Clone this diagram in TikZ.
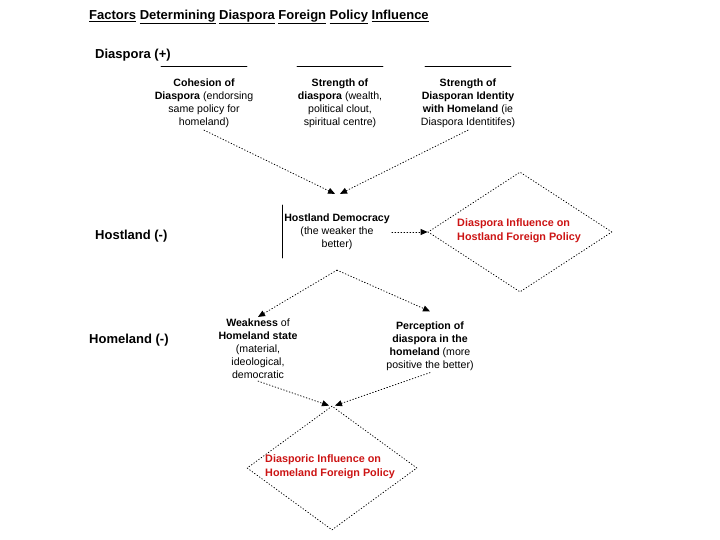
\documentclass[tikz,border=0pt]{standalone}
\usepackage{fontspec}
\setmainfont{Liberation Sans}
\usetikzlibrary{arrows.meta,shapes.geometric}
\definecolor{outred}{RGB}{204,20,20}
\begin{document}
\begin{tikzpicture}
% Factors diagram, laid out on the 720x540 page (1 unit = 1pt, y downwards)
\def\unitsz{1pt}
\providecommand{\diagDotWidth}{0.8pt}
\providecommand{\diagBarWidth}{0.8pt}
\begin{scope}[x=\unitsz, y=-\unitsz, line cap=round,
  dotline/.style={dash pattern=on 0.8pt off 2.2pt, line width=\diagDotWidth},
  rowlabel/.style={anchor=west, inner sep=0pt, font=\bfseries\fontsize{13}{15}\selectfont},
  factor/.style={align=center, inner sep=2pt, font=\fontsize{10.6}{13}\selectfont},
  outcome/.style={anchor=west, align=left, inner sep=0pt, text=outred, font=\bfseries\fontsize{10.8}{14}\selectfont},
  outframe/.style={diamond, draw, inner sep=0pt, dotline},
  conn/.style={dotline, -{Triangle[length=7pt,width=6pt]}},
  topbar/.style={line width=\diagBarWidth},
]
  \useasboundingbox (0,0) rectangle (720,540);
  % Title and row labels
  \node[rowlabel] (title) at (89,17) {\underline{Factors} \underline{Determining} \underline{Diaspora} \underline{Foreign} \underline{Policy} \underline{Influence}};
  \node[rowlabel] (diasporarow) at (95,55) {Diaspora (+)};
  \node[rowlabel] (hostlandrow) at (95,236) {Hostland (-)};
  \node[rowlabel] (homelandrow) at (89,340) {Homeland (-)};
  % Diaspora factors
  \node[factor] (cohesion) at (204,103.5) {\textbf{Cohesion of}\\\textbf{Diaspora} (endorsing\\same policy for\\homeland)};
  \node[factor] (strength) at (340,103.5) {\textbf{Strength of}\\\textbf{diaspora} (wealth,\\political clout,\\spiritual centre)};
  \node[factor] (identity) at (468,103.5) {\textbf{Strength of}\\\textbf{Diasporan Identity}\\\textbf{with Homeland} (ie\\Diaspora Identitifes)};
  \foreach \n in {cohesion,strength,identity}
    \draw[topbar] ([xshift=-43pt,yshift=10pt]\n.north) -- ([xshift=43pt,yshift=10pt]\n.north);
  % Hostland
  \node[factor, inner ysep=20pt] (democracy) at (337,232) {\textbf{Hostland Democracy}\\(the weaker the\\better)};
  \draw[topbar] ([yshift=27pt]democracy.west) -- ([yshift=-26pt]democracy.west);
  \node[outframe, minimum width=184pt, minimum height=120pt] (hostfp) at (520,232) {};
  \node[outcome] (hostfptext) at (457,231) {Diaspora Influence on\\Hostland Foreign Policy};
  % Homeland
  \node[factor] (weakness) at (258,349) {\textbf{Weakness} of\\\textbf{Homeland state}\\(material,\\ideological,\\democratic};
  \node[factor] (perception) at (430,346) {\textbf{Perception of}\\\textbf{diaspora in the}\\\textbf{homeland} (more\\positive the better)};
  \node[outframe, minimum width=170pt, minimum height=124pt] (homefp) at (332,468) {};
  \node[outcome] (homefptext) at (265,467) {Diasporic Influence on\\Homeland Foreign Policy};
  % Connectors
  \draw[conn] (cohesion.south) -- ([xshift=-2pt]democracy.north);
  \draw[conn] (identity.south) -- ([xshift=3pt]democracy.north);
  \draw[conn] (democracy.east) -- (hostfp.west);
  \draw[conn] (democracy.south) -- (weakness.north);
  \draw[conn] (democracy.south) -- ([yshift=8pt]perception.north);
  \draw[conn] (weakness.south) -- ([xshift=-3pt]homefp.north);
  \draw[conn] (perception.south) -- ([xshift=3pt]homefp.north);
\end{scope}
\end{tikzpicture}
\end{document}
